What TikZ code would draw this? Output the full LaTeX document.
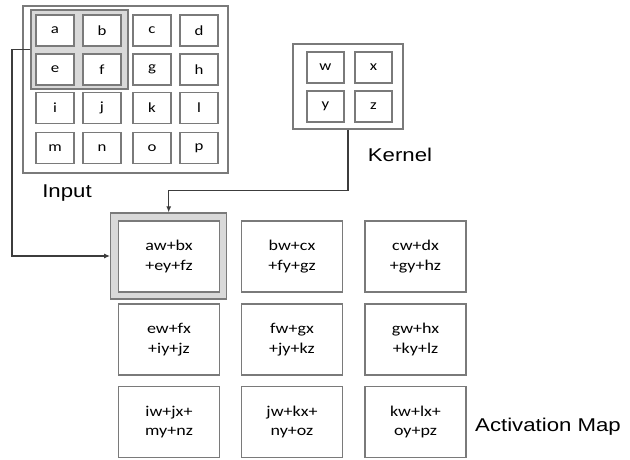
\documentclass[tikz,border=0pt]{standalone}
\usepackage{fontspec}
\usetikzlibrary{arrows.meta}
\newfontfamily\cellfont[FakeStretch=1.2]{Carlito}
\newfontfamily\labfont[FakeStretch=1.2]{Liberation Sans}
\definecolor{boxgray}{HTML}{7A7A7A}
\definecolor{hlfill}{HTML}{D9D9D9}
\definecolor{linkgray}{HTML}{3C3C3C}
\tikzset{
  frame/.style={draw=boxgray, line width=1.3pt, fill=white, rectangle, inner sep=0pt},
  smallcell/.style={frame, minimum width=38pt, minimum height=31pt,
    font=\cellfont\fontsize{14}{16}\selectfont},
  actcell/.style={frame, minimum width=101pt, minimum height=71pt, align=center,
    font=\cellfont\fontsize{15}{19.5}\selectfont},
  hlbox/.style={draw=boxgray, line width=1.3pt, fill=hlfill, rectangle, inner sep=0pt},
  caption/.style={font=\labfont\fontsize{18.5}{20}\selectfont, inner sep=0pt},
  link/.style={draw=linkgray, line width=1.1pt, -{Latex[length=6pt,width=5pt]}}
}
\begin{document}
\begin{tikzpicture}[x=1pt, y=-1pt]
\useasboundingbox (0,0) rectangle (630,459);

% input matrix
\node[frame, minimum width=205pt, minimum height=167pt] (inbox) at (125.5,89.5) {};
\node[hlbox, minimum width=97pt, minimum height=79pt] (inhl) at (79.5,49.5) {};
\foreach \r/\y [count=\i] in {{a,b,c,d}/30.5, {e,f,g,h}/69.5, {i,j,k,l}/108, {m,n,o,p}/148} {
  \foreach \c [count=\j] in \r {
    \pgfmathsetmacro{\xx}{{55,102,152,199}[\j-1]}
    \node[smallcell] (in\c) at (\xx,\y) {\c};
  }
}
\node[caption] (inlabel) at (67,193) {Input};

% kernel
\node[frame, minimum width=110pt, minimum height=85pt] (kbox) at (348,86.5) {};
\node[smallcell, minimum width=37pt] (kw) at (325.5,67.5) {w};
\node[smallcell, minimum width=37pt] (kx) at (373.5,67.5) {x};
\node[smallcell, minimum width=37pt] (ky) at (325.5,106.5) {y};
\node[smallcell, minimum width=37pt] (kz) at (373.5,106.5) {z};
\node[caption] (klabel) at (400,155) {Kernel};

% activation map
\node[hlbox, minimum width=116pt, minimum height=86pt] (acthl) at (168.7,256) {};
\node[actcell] (m11) at (169,256.5) {aw+bx\\+ey+fz};
\node[actcell] (m12) at (292,256.5) {bw+cx\\+fy+gz};
\node[actcell] (m13) at (415.5,256.5) {cw+dx\\+gy+hz};
\node[actcell] (m21) at (169,339.5) {ew+fx\\+iy+jz};
\node[actcell] (m22) at (292,339.5) {fw+gx\\+jy+kz};
\node[actcell] (m23) at (415.5,339.5) {gw+hx\\+ky+lz};
\node[actcell] (m31) at (169,422) {iw+jx+\\my+nz};
\node[actcell] (m32) at (292,422) {jw+kx+\\ny+oz};
\node[actcell] (m33) at (415.5,422) {kw+lx+\\oy+pz};
\node[caption] (alabel) at (548,427) {Activation Map};

% connectors
\draw[link] (inhl.west) -| (12,256) -- (acthl.west);
\draw[link] (kbox.south) -- ++(0,61) -| (acthl.north);
\end{tikzpicture}
\end{document}
